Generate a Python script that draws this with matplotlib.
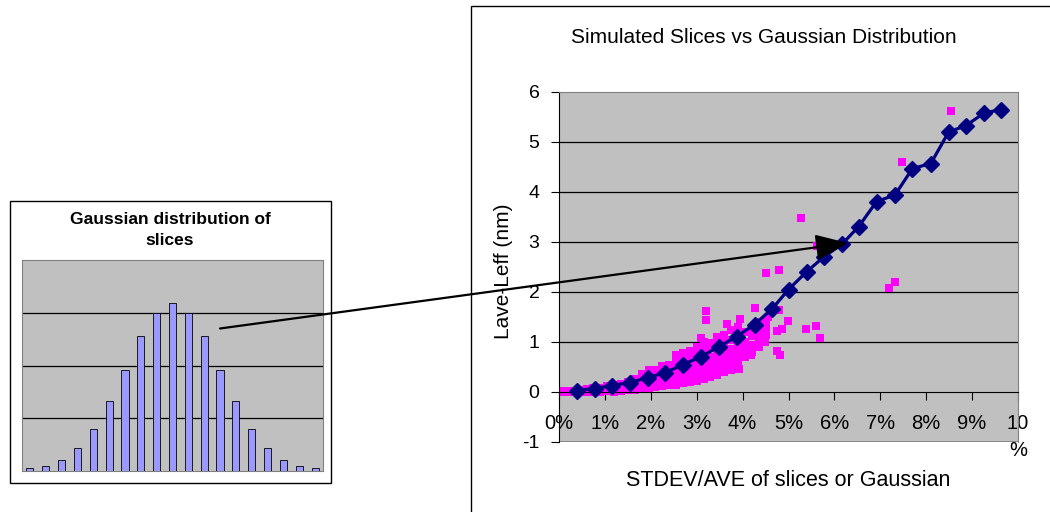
import numpy as np
import matplotlib.pyplot as plt
from matplotlib.patches import Rectangle

plt.rcParams['font.family'] = ['Liberation Sans', 'DejaVu Sans']
plt.rcParams['axes.unicode_minus'] = False

# gaussian distribution of slices (inset bars)
bar_heights = [0.056, 0.10, 0.21, 0.44, 0.79, 1.32, 1.92, 2.55, 3.0, 3.18,
               3.0, 2.55, 1.92, 1.32, 0.79, 0.44, 0.21, 0.10, 0.056]

# gaussian curve, Lave-Leff vs STDEV/AVE (%)
gauss_x = [0.40, 0.78, 1.15, 1.55, 1.94, 2.32, 2.71, 3.10, 3.49, 3.87, 4.26, 4.65, 5.00,
           5.40, 5.78, 6.17, 6.53, 6.92, 7.32, 7.70, 8.10, 8.49, 8.87, 9.26, 9.64]
gauss_y = [0.03, 0.07, 0.13, 0.19, 0.29, 0.39, 0.55, 0.71, 0.91, 1.11, 1.35, 1.67, 2.05,
           2.41, 2.71, 2.96, 3.31, 3.81, 3.94, 4.47, 4.57, 5.20, 5.33, 5.58, 5.65]

# simulated slices (dense band + outliers)
slice_x = [0.0, 0.0, 0.15, 0.15, 0.3, 0.3, 0.45, 0.45, 0.6, 0.6, 0.6, 0.75, 0.75, 0.75,
           0.9, 0.9, 0.9, 1.05, 1.05, 1.05, 1.2, 1.2, 1.2, 1.2, 1.35, 1.35, 1.35,
           1.5, 1.5, 1.5, 1.5, 1.65, 1.65, 1.65, 1.65,
           1.8, 1.8, 1.8, 1.8, 1.8, 1.95, 1.95, 1.95, 1.95, 1.95,
           2.1, 2.1, 2.1, 2.1, 2.1, 2.25, 2.25, 2.25, 2.25, 2.25,
           2.4, 2.4, 2.4, 2.4, 2.4, 2.55, 2.55, 2.55, 2.55, 2.55, 2.55,
           2.7, 2.7, 2.7, 2.7, 2.7, 2.7, 2.85, 2.85, 2.85, 2.85, 2.85, 2.85,
           3.0, 3.0, 3.0, 3.0, 3.0, 3.0, 3.15, 3.15, 3.15, 3.15, 3.15, 3.15,
           3.3, 3.3, 3.3, 3.3, 3.3, 3.3, 3.45, 3.45, 3.45, 3.45, 3.45, 3.45,
           3.6, 3.6, 3.6, 3.6, 3.6, 3.6, 3.75, 3.75, 3.75, 3.75, 3.75, 3.75,
           3.9, 3.9, 3.9, 3.9, 3.9, 4.05, 4.05, 4.05, 4.05, 4.2, 4.2, 4.2, 4.2,
           4.35, 4.35, 4.35, 4.35, 4.5, 4.5, 4.5,
           5.27, 5.62, 4.52, 4.80, 7.18, 7.32, 7.47, 8.53, 3.20, 3.20, 4.27, 4.99,
           5.39, 5.60, 5.69, 4.80, 4.74, 4.86, 4.74, 4.82, 4.49, 4.44, 4.19, 3.93,
           3.71, 3.65, 3.95, 3.10, 4.56, 4.31]
slice_y = [0.0, 0.02, 0.0, 0.03, 0.0, 0.03, 0.01, 0.04, 0.0, 0.03, 0.06, 0.01, 0.05, 0.08,
           0.0, 0.04, 0.09, 0.02, 0.07, 0.12, 0.01, 0.06, 0.12, 0.15, 0.03, 0.09, 0.16,
           0.04, 0.10, 0.16, 0.21, 0.05, 0.12, 0.20, 0.26,
           0.07, 0.14, 0.22, 0.30, 0.36, 0.08, 0.16, 0.25, 0.34, 0.44,
           0.10, 0.19, 0.28, 0.38, 0.45, 0.12, 0.20, 0.30, 0.42, 0.52,
           0.14, 0.23, 0.33, 0.45, 0.55, 0.15, 0.25, 0.36, 0.50, 0.62, 0.75,
           0.18, 0.28, 0.40, 0.52, 0.68, 0.78, 0.20, 0.30, 0.44, 0.58, 0.72, 0.83,
           0.22, 0.35, 0.48, 0.62, 0.80, 0.90, 0.26, 0.38, 0.52, 0.66, 0.84, 1.00,
           0.30, 0.42, 0.55, 0.70, 0.88, 0.98, 0.35, 0.48, 0.60, 0.75, 0.95, 1.10,
           0.40, 0.52, 0.65, 0.80, 1.00, 1.15, 0.45, 0.58, 0.72, 0.86, 1.05, 1.25,
           0.62, 0.78, 0.92, 1.10, 1.30, 0.70, 0.85, 1.00, 1.20, 0.80, 0.95, 1.12, 1.25,
           0.90, 1.05, 1.20, 1.40, 1.15, 1.30, 1.45,
           3.49, 2.92, 2.39, 2.45, 2.09, 2.21, 4.60, 5.63, 1.63, 1.45, 1.69, 1.43,
           1.26, 1.32, 1.08, 1.65, 1.23, 1.26, 0.83, 0.74, 1.00, 1.00, 0.74, 0.47,
           0.50, 1.36, 1.46, 1.08, 1.50, 1.20]

x_ticks = [0, 1, 2, 3, 4, 5, 6, 7, 8, 9, 10]
x_labels = ['0%', '1%', '2%', '3%', '4%', '5%', '6%', '7%', '8%', '9%', '10\n%']

W, H = 1050, 512
fig = plt.figure(figsize=(W / 100, H / 100), dpi=100)

# frames (pixel boxes)
fig.patches.append(Rectangle((10 / W, 1 - 483 / H), 321 / W, 282 / H, transform=fig.transFigure,
                             fill=False, edgecolor='black', lw=1.0))
fig.patches.append(Rectangle((471 / W, -0.05), 0.6, 1 - 6 / H + 0.05, transform=fig.transFigure,
                             fill=False, edgecolor='black', lw=1.0))

# ---- inset: gaussian distribution
ax1 = fig.add_axes([22 / W, 1 - 471 / H, 301 / W, 211 / H])
ax1.set_facecolor('#c0c0c0')
ax1.bar(np.arange(len(bar_heights)), bar_heights, width=0.45, color='#9999ff',
        edgecolor='black', linewidth=0.6, zorder=3)
for g in [1, 2, 3]:
    ax1.axhline(g, color='black', lw=0.9, zorder=1)
ax1.set_xlim(-0.5, len(bar_heights) - 0.5)
ax1.set_ylim(0, 4)
ax1.set_xticks([])
ax1.set_yticks([])
for s in ax1.spines.values():
    s.set_color('#808080')
fig.text(170 / W, 1 - 230 / H, 'Gaussian distribution of\nslices', ha='center', va='center',
         fontsize=12.5, fontweight='bold', linespacing=1.5)

# ---- main chart
ax = fig.add_axes([559 / W, 1 - 442 / H, 459 / W, 350 / H])
ax.set_facecolor('#c0c0c0')
for g in [1, 2, 3, 4, 5]:
    ax.axhline(g, color='black', lw=0.9, zorder=1)
ax.scatter(slice_x, slice_y, marker='s', s=36, color='#ff00ff', linewidths=0, zorder=2)
ax.plot(gauss_x, gauss_y, color='#000080', lw=2.3, marker='D', markersize=8, zorder=3)

ax.set_xlim(0, 10)
ax.set_ylim(-1, 6)
ax.spines['bottom'].set_position(('data', 0))
ax.spines['bottom'].set_color('black')
ax.spines['left'].set_color('black')
ax.spines['top'].set_color('#808080')
ax.spines['right'].set_color('#808080')
ax.axhline(-1, color='#808080', lw=1.2, zorder=1)
ax.set_xticks(x_ticks)
ax.set_xticklabels(x_labels, fontsize=14.5, linespacing=1.5, va='top')
ax.set_yticks(range(-1, 7))
ax.tick_params(axis='x', direction='out', length=6, pad=10)
ax.tick_params(axis='y', direction='out', length=6, pad=8, labelsize=14)

ax.text(0.447, 1.157, 'Simulated Slices vs Gaussian Distribution', transform=ax.transAxes,
        ha='center', va='center', fontsize=15)
ax.set_xlabel('STDEV/AVE of slices or Gaussian', fontsize=15.5)
ax.xaxis.set_label_coords(0.5, -0.109)
ax.set_ylabel('Lave-Leff (nm)', fontsize=15)
ax.yaxis.set_label_coords(-0.122, 0.489)
ax.xaxis.label.set_va('center')
ax.yaxis.label.set_va('center')

# arrow from inset to the curve
ax.annotate('', xy=(848 / W, 1 - 243 / H), xycoords='figure fraction',
            xytext=(220 / W, 1 - 328.5 / H), textcoords='figure fraction',
            arrowprops=dict(arrowstyle='-|>,head_length=2.0,head_width=0.8', color='black',
                            lw=1.6, shrinkA=0, shrinkB=0),
            annotation_clip=False, zorder=10)

fig.savefig('out.png', dpi=100)
